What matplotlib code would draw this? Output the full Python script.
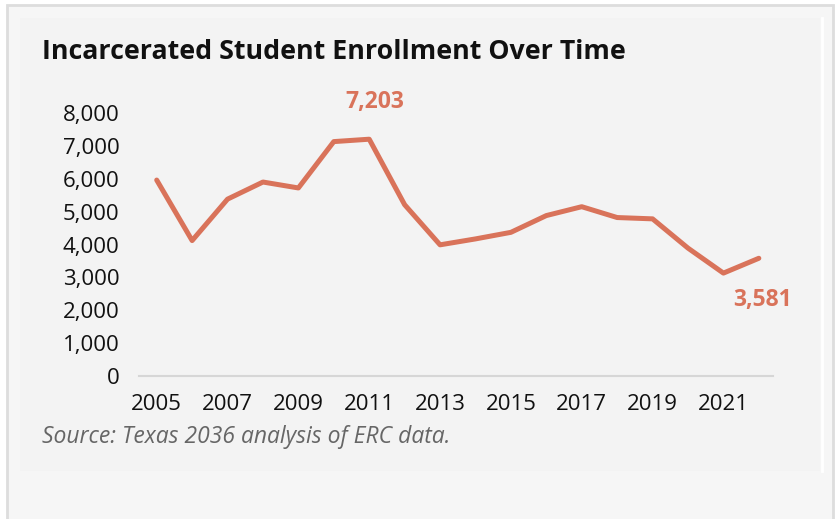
import matplotlib
matplotlib.use("Agg")
import matplotlib.pyplot as plt
from matplotlib.patches import Rectangle
from matplotlib.lines import Line2D
from matplotlib.ticker import FuncFormatter

# enrollment per year
years = list(range(2005, 2023))
enrollment = [5960, 4120, 5380, 5900, 5720, 7130, 7203, 5210, 3990, 4170,
              4370, 4880, 5150, 4820, 4780, 3890, 3130, 3581]
tick_years = list(range(2005, 2022, 2))
y_ticks = list(range(0, 8001, 1000))

line_color = "#D9735A"
plt.rcParams["font.family"] = ["Open Sans", "DejaVu Sans"]

W, H = 838, 519
fig = plt.figure(figsize=(W / 100, H / 100), dpi=100, facecolor="white")

# card background and border (figure pixel coords, y from top)
def px_rect(x0, y0, x1, y1, **kw):
    fig.patches.append(Rectangle((x0 / W, 1 - y1 / H), (x1 - x0) / W, (y1 - y0) / H,
                                 transform=fig.transFigure, zorder=-5, **kw))

px_rect(7, 5, 833, 530, facecolor="#f6f6f6", edgecolor="#dddddd", linewidth=2)
px_rect(20, 18, 820, 471, facecolor="#f3f3f3", edgecolor="none")
fig.lines.append(Line2D([821.5 / W, 821.5 / W], [1 - 18 / H, 1 - 471 / H],
                        transform=fig.transFigure, color="white", linewidth=2, zorder=-4))

ax = fig.add_axes([139 / W, 1 - 376 / H, (773 - 139) / W, (376 - 113) / H])
ax.set_facecolor("none")
ax.plot(years, enrollment, color=line_color, linewidth=3.6, solid_capstyle="round",
        solid_joinstyle="round", clip_on=False)

ax.set_xlim(2004.5, 2022.4)
ax.set_ylim(0, 8000)
ax.set_xticks(tick_years)
ax.set_yticks(y_ticks)
ax.yaxis.set_major_formatter(FuncFormatter(lambda v, p: f"{int(v):,}"))
ax.tick_params(axis="both", length=0, labelsize=16, colors="#111111")
ax.tick_params(axis="y", pad=14)
ax.tick_params(axis="x", pad=13)
for s in ["top", "right", "left"]:
    ax.spines[s].set_visible(False)
ax.spines["bottom"].set_color("#d6d6d6")
ax.spines["bottom"].set_linewidth(1.5)

# labels for peak and latest value
ax.annotate(f"{enrollment[6]:,}", (years[6], enrollment[6]), xytext=(4, 27),
            textcoords="offset points", ha="center", va="center",
            color=line_color, fontsize=16.5, fontweight="bold")
ax.annotate(f"{enrollment[-1]:,}", (years[-1], enrollment[-1]), xytext=(3, -30),
            textcoords="offset points", ha="center", va="center",
            color=line_color, fontsize=16.5, fontweight="bold")

fig.text(42 / W, 1 - 52 / H, "Incarcerated Student Enrollment Over Time",
         fontsize=19.3, fontweight="bold", color="#111111", va="center", ha="left")
fig.text(42 / W, 1 - 437 / H, "Source: Texas 2036 analysis of ERC data.",
         fontsize=16.5, style="italic", color="#666666", va="center", ha="left")

fig.savefig("out.png", dpi=100, facecolor="white")
